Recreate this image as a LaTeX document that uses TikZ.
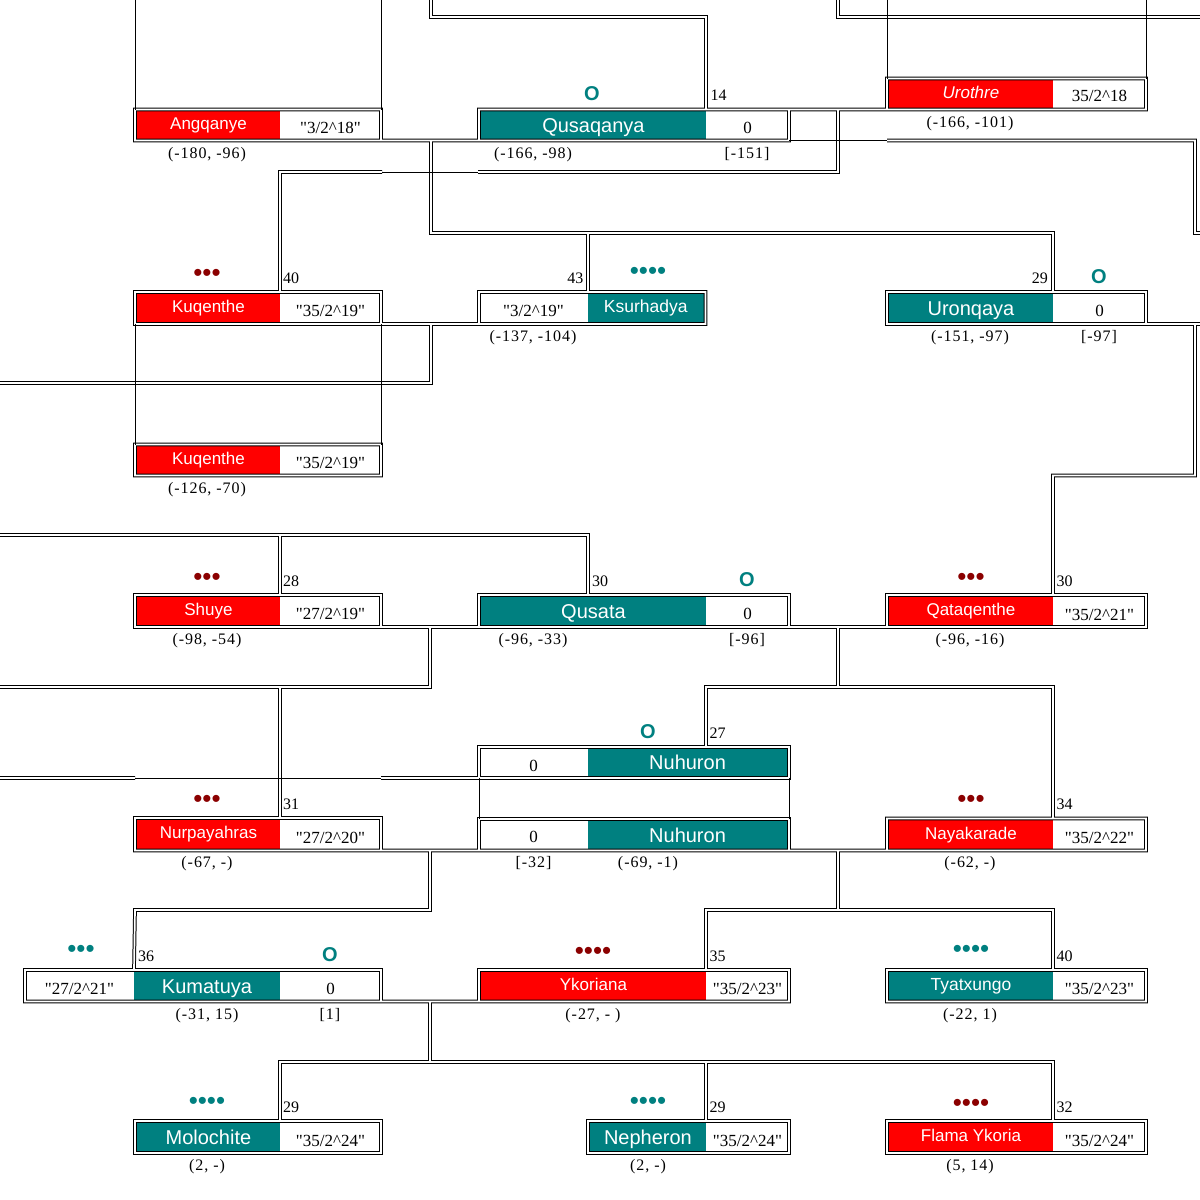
\documentclass[tikz,border=0pt]{standalone}
\usepackage{fontspec}
\setmainfont{Liberation Serif}[Ligatures=TeXOff]
\setsansfont{Liberation Sans}
\newfontfamily\subfont{Liberation Serif}[LetterSpace=6,Ligatures=TeXOff]
\newcommand\qq{\symbol{34}}
\definecolor{pteal}{RGB}{0,128,128}
\definecolor{pred}{RGB}{255,0,0}
\definecolor{pdark}{RGB}{139,0,0}
\tikzset{
  pbox/.style={rectangle, fill=white, inner sep=0pt, outer sep=0pt, anchor=north west},
  rpart/.style={rectangle, fill=pred, text=white, inner sep=0pt, outer sep=0pt, anchor=north west,
    font=\sffamily\fontsize{17}{17}\selectfont, text height=12.2pt, text depth=2.8pt},
  tpart/.style={rectangle, fill=pteal, text=white, inner sep=0pt, outer sep=0pt, anchor=north west,
    font=\sffamily\fontsize{20}{20}\selectfont, text height=14.5pt, text depth=0pt},
  tpartS/.style={tpart, font=\sffamily\fontsize{17.5}{17.5}\selectfont, text height=12.4pt, text depth=2.8pt},
  val/.style={font=\fontsize{17}{17}\selectfont, inner sep=0pt, anchor=base},
  sub/.style={font=\subfont\fontsize{16}{16}\selectfont, inner sep=0pt, anchor=base},
  num/.style={font=\fontsize{16}{16}\selectfont, inner sep=0pt, anchor=base west},
  numE/.style={num, anchor=base east},
  ohh/.style={font=\sffamily\bfseries\fontsize{20}{20}\selectfont, text=pteal, inner sep=0pt, anchor=base},
  dotsR/.style={font=\sffamily\fontsize{26}{26}\selectfont, text=pdark, inner sep=0pt, anchor=center},
  dotsT/.style={dotsR, text=pteal},
  dline/.style={draw=black, double=white, line width=1pt, double distance=1.7pt},
  sline/.style={draw=black, line width=1pt}
}
\newcommand\PB[5]{\node[pbox,minimum width={#4-#2},minimum height={#5-#3}] (#1) at (#2,#3) {};}
\newcommand\PP[7]{\node[#6,minimum width={#3-#2},minimum height={#5-#4-3.7}] (#1) at (#2,{#4+1.85}) {#7};}
\begin{document}
\begin{tikzpicture}[x=1pt,y=-1pt]
\useasboundingbox (0,0) rectangle (1200,1200);
\fill[white] (0,0) rectangle (1200,1200);
% free ends at the picture edges
\coordinate (t1) at (431,0);
\coordinate (t2) at (838,0);
\coordinate (r1) at (1200,17);
\coordinate (r2) at (1200,233);
\coordinate (r3) at (1200,324);
\coordinate (l1) at (0,383);
\coordinate (l2) at (0,535);
\coordinate (l3) at (0,687);
\coordinate (l4) at (0,778);
\coordinate (a1) at (135,0);
\coordinate (a2) at (381,0);
\coordinate (a3) at (887,0);
\coordinate (a4) at (1146,0);
% boxes
\PB{ang}{135}{109.5}{381}{140.5}
\PP{angN}{136.9}{280}{109.5}{140.5}{rpart}{Angqanye}
\PB{qsq}{479}{109.5}{789}{140.5}
\PP{qsqN}{480.9}{706}{109.5}{140.5}{tpart}{Qusaqanya}
\PB{uro}{887}{78.5}{1146}{109.5}
\PP{uroN}{888.9}{1053}{78.5}{109.5}{rpart}{\itshape Urothre}
\PB{kuq1}{135}{292}{381}{324}
\PP{kuq1N}{136.9}{280}{292}{324}{rpart}{Kuqenthe}
\PB{ksu}{479}{292}{705.5}{324}
\PP{ksuT}{588}{703.6}{292}{324}{tpartS}{Ksurhadya}
\PB{urq}{887}{292}{1146}{324}
\PP{urqN}{888.9}{1053}{292}{324}{tpart}{Uronqaya}
\PB{kuq2}{135}{444.5}{381}{475.5}
\PP{kuq2N}{136.9}{280}{444.5}{475.5}{rpart}{Kuqenthe}
\PB{shu}{135}{595}{381}{627}
\PP{shuN}{136.9}{280}{595}{627}{rpart}{Shuye}
\PB{qst}{479}{595}{789}{627}
\PP{qstN}{480.9}{706}{595}{627}{tpart}{Qusata}
\PB{qtq}{887}{595}{1146}{627}
\PP{qtqN}{888.9}{1053}{595}{627}{rpart}{Qataqenthe}
\PB{nuh1}{479}{747}{789}{778}
\PP{nuh1T}{588}{787.1}{747}{778}{tpart}{Nuhuron}
\PB{nuh2}{479}{819}{789}{850.5}
\PP{nuh2T}{588}{787.1}{819}{850.5}{tpart}{Nuhuron}
\PB{nur}{135}{818}{381}{850.5}
\PP{nurN}{136.9}{280}{818}{850.5}{rpart}{Nurpayahras}
\PB{nay}{887}{818.5}{1146}{850.5}
\PP{nayN}{888.9}{1053}{818.5}{850.5}{rpart}{Nayakarade}
\PB{kum}{25}{970}{381}{1001.5}
\PP{kumT}{134}{280}{970}{1001.5}{tpart}{Kumatuya}
\PB{yko}{479}{970}{789}{1001.5}
\PP{ykoN}{480.9}{706}{970}{1001.5}{rpart}{Ykoriana}
\PB{tya}{887}{970}{1146}{1001.5}
\PP{tyaN}{888.9}{1053}{970}{1001.5}{tpartS}{Tyatxungo}
\PB{mol}{135}{1121}{381}{1153}
\PP{molN}{136.9}{280}{1121}{1153}{tpart}{Molochite}
\PB{nep}{588}{1121}{789}{1153}
\PP{nepN}{589.9}{706}{1121}{1153}{tpart}{Nepheron}
\PB{fla}{887}{1121}{1146}{1153}
\PP{flaN}{888.9}{1053}{1121}{1153}{rpart}{Flama Ykoria}
% double lines: box frames and connectors
\draw[dline]
  (ang.north west) rectangle (ang.south east)
  (qsq.north west) rectangle (qsq.south east)
  (uro.north west) rectangle (uro.south east)
  (kuq1.north west) rectangle (kuq1.south east)
  (ksu.north west) rectangle (ksu.south east)
  (urq.north west) rectangle (urq.south east)
  (kuq2.north west) rectangle (kuq2.south east)
  (shu.north west) rectangle (shu.south east)
  (qst.north west) rectangle (qst.south east)
  (qtq.north west) rectangle (qtq.south east)
  (nuh1.north west) rectangle (nuh1.south east)
  (nuh2.north west) rectangle (nuh2.south east)
  (nur.north west) rectangle (nur.south east)
  (nay.north west) rectangle (nay.south east)
  (kum.north west) rectangle (kum.south east)
  (yko.north west) rectangle (yko.south east)
  (tya.north west) rectangle (tya.south east)
  (mol.north west) rectangle (mol.south east)
  (nep.north west) rectangle (nep.south east)
  (fla.north west) rectangle (fla.south east)
  (t1) |- (706,17) -- (qsqN.east |- qsq.north)
  (t2) |- (r1)
  (ang.south east) -- (qsq.south west)
  (431,140.5) |- (1053,233) -- (urqN.east |- urq.north)
  (588,233) -- (ksuT.west |- ksu.north)
  (qsq.north east) -- (uro.south west)
  (838,109.5) |- (478,172)
  (382,172) -| (kuq1N.east |- kuq1.north)
  (887,140.5) -| (1195,233) -- (r2)
  (kuq1.south east) -- (ksu.south west)
  (431,324) |- (l1)
  (urq.south east) -- (r3)
  (1195,324) |- (1053,475.5) -- (qtqN.east |- qtq.north)
  (l2) -| (588,0 |- qst.north)
  (280,535) -- (shuN.east |- shu.north)
  (shu.south east) -- (qst.south west)
  (430,627) |- (l3)
  (280,687) -- (nurN.east |- nur.north)
  (qst.south east) -- (qtq.south west)
  (838,627) -- (838,687)
  (706,0 |- nuh1.north) |- (1053,687) -- (nayN.east |- nay.north)
  (l4) -- (135,778)
  (381,778) -- (nuh1.south west)
  (nur.south east) -- (nuh2.south west)
  (430,850.5) |- (135,910) -- (kumT.west |- kum.north)
  (nuh2.south east) -- (nay.south west)
  (838,850.5) -- (838,910)
  (706,0 |- yko.north) |- (1053,910) -- (tyaN.east |- tya.north)
  (kum.south east) -- (yko.south west)
  (430,1001.5) -- (430,1062)
  (molN.east |- mol.north) |- (1053,1062) -- (flaN.east |- fla.north)
  (706,1062) -- (nepN.east |- nep.north);
% single lines
\draw[sline]
  (a1) -- (ang.north west)
  (a2) -- (ang.north east)
  (a3) -- (uro.north west)
  (a4) -- (uro.north east)
  (478,172) -- (382,172)
  (qsq.south east) -- (887,140.5)
  (kuq1.south west) -- (kuq2.north west)
  (kuq1.south east) -- (kuq2.north east)
  (135,778) -- (381,778)
  (nuh1.south west) -- (nuh2.north west)
  (nuh1.south east) -- (nuh2.north east);
% values in the white cells
\node[val] (angV) at (330.5,133.5) {\qq 3/2\textasciicircum 18\qq};
\node[val] (qsqV) at (747.5,133.5) {0};
\node[val] (uroV) at (1099.5,101.5) {35/2\textasciicircum 18};
\node[val] (kuq1V) at (330.5,316.5) {\qq 35/2\textasciicircum 19\qq};
\node[val] (ksuV) at (533.5,316.5) {\qq 3/2\textasciicircum 19\qq};
\node[val] (urqV) at (1099.5,316.5) {0};
\node[val] (kuq2V) at (330.5,468.5) {\qq 35/2\textasciicircum 19\qq};
\node[val] (shuV) at (330.5,619.5) {\qq 27/2\textasciicircum 19\qq};
\node[val] (qstV) at (747.5,619.5) {0};
\node[val] (qtqV) at (1099.5,620) {\qq 35/2\textasciicircum 21\qq};
\node[val] (nuh1V) at (533.5,771) {0};
\node[val] (nuh2V) at (533.5,842.5) {0};
\node[val] (nurV) at (330.5,843) {\qq 27/2\textasciicircum 20\qq};
\node[val] (nayV) at (1099.5,843) {\qq 35/2\textasciicircum 22\qq};
\node[val] (kumL) at (79.5,994.5) {\qq 27/2\textasciicircum 21\qq};
\node[val] (kumV) at (330.5,994.5) {0};
\node[val] (ykoV) at (747.5,994.5) {\qq 35/2\textasciicircum 23\qq};
\node[val] (tyaV) at (1099.5,994.5) {\qq 35/2\textasciicircum 23\qq};
\node[val] (molV) at (330.5,1146) {\qq 35/2\textasciicircum 24\qq};
\node[val] (nepV) at (747.5,1146) {\qq 35/2\textasciicircum 24\qq};
\node[val] (flaV) at (1099.5,1146) {\qq 35/2\textasciicircum 24\qq};
% texts below the boxes
\node[sub] (angB) at (207,158) {(-180, -96)};
\node[sub] (qsqB1) at (533,158) {(-166, -98)};
\node[sub] (qsqB2) at (747,158) {[-151]};
\node[sub] (uroB) at (970,127) {(-166, -101)};
\node[sub] (ksuB) at (533,341.5) {(-137, -104)};
\node[sub] (urqB1) at (970,341.5) {(-151, -97)};
\node[sub] (urqB2) at (1099,341.5) {[-97]};
\node[sub] (kuq2B) at (207,493) {(-126, -70)};
\node[sub] (shuB) at (207,644.5) {(-98, -54)};
\node[sub] (qstB1) at (533,644.5) {(-96, -33)};
\node[sub] (qstB2) at (747,644.5) {[-96]};
\node[sub] (qtqB) at (970,644.5) {(-96, -16)};
\node[sub] (nuh2B1) at (533.5,867) {[-32]};
\node[sub] (nuh2B2) at (648,867) {(-69, -1)};
\node[sub] (nurB) at (207,867) {(-67, -)};
\node[sub] (nayB) at (970,867) {(-62, -)};
\node[sub] (kumB1) at (207,1019) {(-31, 15)};
\node[sub] (kumB2) at (330,1019) {[1]};
\node[sub] (ykoB) at (593,1019) {(-27, - )};
\node[sub] (tyaB) at (970,1019) {(-22, 1)};
\node[sub] (molB) at (207,1170.5) {(2, -)};
\node[sub] (nepB) at (648,1170.5) {(2, -)};
\node[sub] (flaB) at (970,1170.5) {(5, 14)};
% numbers beside the descent lines
\node[num] (qsqK) at (710.5,100.5) {14};
\node[num] (kuq1K) at (283,283) {40};
\node[numE] (ksuK) at (583.5,283) {43};
\node[numE] (urqK) at (1048,283) {29};
\node[num] (shuK) at (283,586) {28};
\node[num] (qstK) at (592,586) {30};
\node[num] (qtqK) at (1056.5,586) {30};
\node[num] (nuh1K) at (709.5,738) {27};
\node[num] (nurK) at (283,809) {31};
\node[num] (nayK) at (1056.5,809) {34};
\node[num] (kumK) at (138,961) {36};
\node[num] (ykoK) at (709.5,961) {35};
\node[num] (tyaK) at (1056.5,961) {40};
\node[num] (molK) at (283,1112) {29};
\node[num] (nepK) at (709.5,1112) {29};
\node[num] (flaK) at (1056.5,1112) {32};
% O marks
\node[ohh] (qsqO) at (592,100.5) {O};
\node[ohh] (urqO) at (1099,283) {O};
\node[ohh] (qstO) at (747,586) {O};
\node[ohh] (nuh1O) at (648,738) {O};
\node[ohh] (kumO) at (330,961) {O};
% dots
\node[dotsR] (kuq1D) at (207,275) {•••};
\node[dotsT] (ksuD) at (648,273.5) {••••};
\node[dotsR] (shuD) at (207,579) {•••};
\node[dotsR] (qtqD) at (971,579) {•••};
\node[dotsR] (nurD) at (207,801) {•••};
\node[dotsR] (nayD) at (971,801) {•••};
\node[dotsT] (kumD) at (81,951.5) {•••};
\node[dotsR] (ykoD) at (593,953) {••••};
\node[dotsT] (tyaD) at (971,951.5) {••••};
\node[dotsT] (molD) at (207,1103) {••••};
\node[dotsT] (nepD) at (648,1103) {••••};
\node[dotsR] (flaD) at (971,1105) {••••};
\end{tikzpicture}
\end{document}
